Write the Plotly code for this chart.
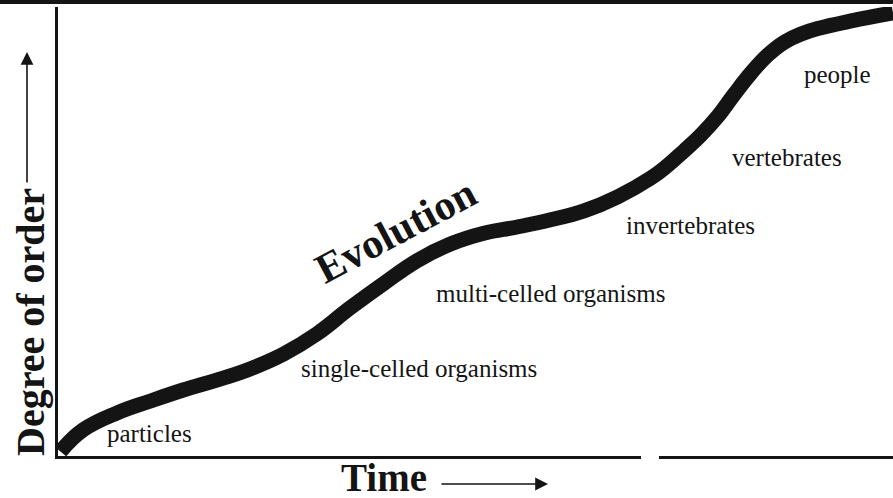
import plotly.graph_objects as go

# Curve: time (0-100) vs degree of order (0-100)
time_vals = [0.3, 3.0, 7.1, 11.0, 15.0, 19.0, 23.0, 27.0, 31.0, 35.0, 39.0, 43.0, 47.0,
             51.0, 55.0, 59.0, 63.0, 67.0, 71.0, 73.0, 75.0, 77.0, 79.0, 81.0, 83.0,
             85.0, 87.0, 89.0, 91.0, 95.0, 100.0]
order_vals = [1.0, 5.8, 9.6, 12.2, 14.7, 16.9, 19.4, 22.7, 27.2, 33.0, 38.4, 43.5, 47.2,
              49.6, 51.0, 52.6, 54.6, 57.7, 61.9, 64.7, 68.0, 71.5, 75.6, 80.6, 85.3,
              89.3, 92.2, 94.0, 95.2, 96.9, 98.7]

stage_labels = ["particles", "single-celled organisms", "multi-celled organisms",
                "invertebrates", "vertebrates", "people"]
stage_x = [11.0, 43.2, 59.0, 75.8, 87.3, 93.4]
stage_y = [5.1, 19.6, 36.3, 51.4, 66.4, 84.9]

curve_label = "Evolution"
curve_label_x = 40.4
curve_label_y = 50.2

x_title = "Time"
y_title = "Degree of order"

INK = "#141414"
SERIF = "Liberation Serif, Times New Roman, serif"

fig = go.Figure()
fig.add_trace(go.Scatter(
    x=time_vals, y=order_vals, mode="lines",
    line=dict(color=INK, width=15, shape="spline", smoothing=1.2),
    hoverinfo="skip", showlegend=False,
))

annotations = []
for lab, lx, ly in zip(stage_labels, stage_x, stage_y):
    annotations.append(dict(x=lx, y=ly, xref="x", yref="y", text=lab, showarrow=False,
                            font=dict(family=SERIF, size=25, color=INK),
                            xanchor="center", yanchor="middle"))

annotations.append(dict(x=curve_label_x, y=curve_label_y, xref="x", yref="y",
                        text="<b>" + curve_label + "</b>", showarrow=False, textangle=-28,
                        font=dict(family=SERIF, size=42, color=INK),
                        xanchor="center", yanchor="middle"))

W, H = 893, 498
ml, mr, mt, mb = 58, 0, 7, 42
pw, ph = W - ml - mr, H - mt - mb

def px_to_paper(px, py):
    return (px - ml) / pw, (H - mb - py) / ph

# Y title
tx, ty = px_to_paper(30, 322)
annotations.append(dict(x=tx, y=ty, xref="paper", yref="paper", text="<b>" + y_title + "</b>",
                        showarrow=False, textangle=-90,
                        font=dict(family=SERIF, size=40, color=INK),
                        xanchor="center", yanchor="middle"))
ax_, ay_ = px_to_paper(27, 52)
annotations.append(dict(x=ax_, y=ay_, xref="paper", yref="paper", text="",
                        showarrow=True, arrowhead=2, arrowsize=1.6, arrowwidth=1.6,
                        arrowcolor=INK, ax=0, ay=132, axref="pixel", ayref="pixel"))

# X title
tx, ty = px_to_paper(384, 477)
annotations.append(dict(x=tx, y=ty, xref="paper", yref="paper", text="<b>" + x_title + "</b>",
                        showarrow=False, borderpad=0,
                        font=dict(family=SERIF, size=39, color=INK),
                        xanchor="center", yanchor="middle"))
ax_, ay_ = px_to_paper(548, 484)
annotations.append(dict(x=ax_, y=ay_, xref="paper", yref="paper", text="",
                        showarrow=True, arrowhead=2, arrowsize=1.6, arrowwidth=1.6,
                        arrowcolor=INK, ax=-108, ay=0, axref="pixel", ayref="pixel"))

# top border line and small break in the bottom axis line
x0p, _ = px_to_paper(0, 0)
_, ytop = px_to_paper(0, 2)
gx0, gy0 = px_to_paper(641, 461)
gx1, gy1 = px_to_paper(659, 451)
shapes = [
    dict(type="line", xref="paper", yref="paper", x0=x0p, x1=1, y0=ytop, y1=ytop,
         line=dict(color=INK, width=4)),
    dict(type="rect", xref="paper", yref="paper", x0=gx0, x1=gx1, y0=gy0, y1=gy1,
         line=dict(width=0), fillcolor="white", layer="above"),
]

fig.update_layout(
    width=W, height=H,
    margin=dict(l=ml, r=mr, t=mt, b=mb),
    paper_bgcolor="white", plot_bgcolor="white",
    xaxis=dict(range=[0, 100], showgrid=False, zeroline=False, showticklabels=False,
               ticks="", showline=True, linecolor=INK, linewidth=3, fixedrange=True),
    yaxis=dict(range=[0, 100], showgrid=False, zeroline=False, showticklabels=False,
               ticks="", showline=True, linecolor=INK, linewidth=3, fixedrange=True),
    annotations=annotations,
    shapes=shapes,
    showlegend=False,
)

fig.write_html("out.html", config={"displayModeBar": False},
               post_script="document.body.style.margin='0';document.body.style.overflow='hidden';")
